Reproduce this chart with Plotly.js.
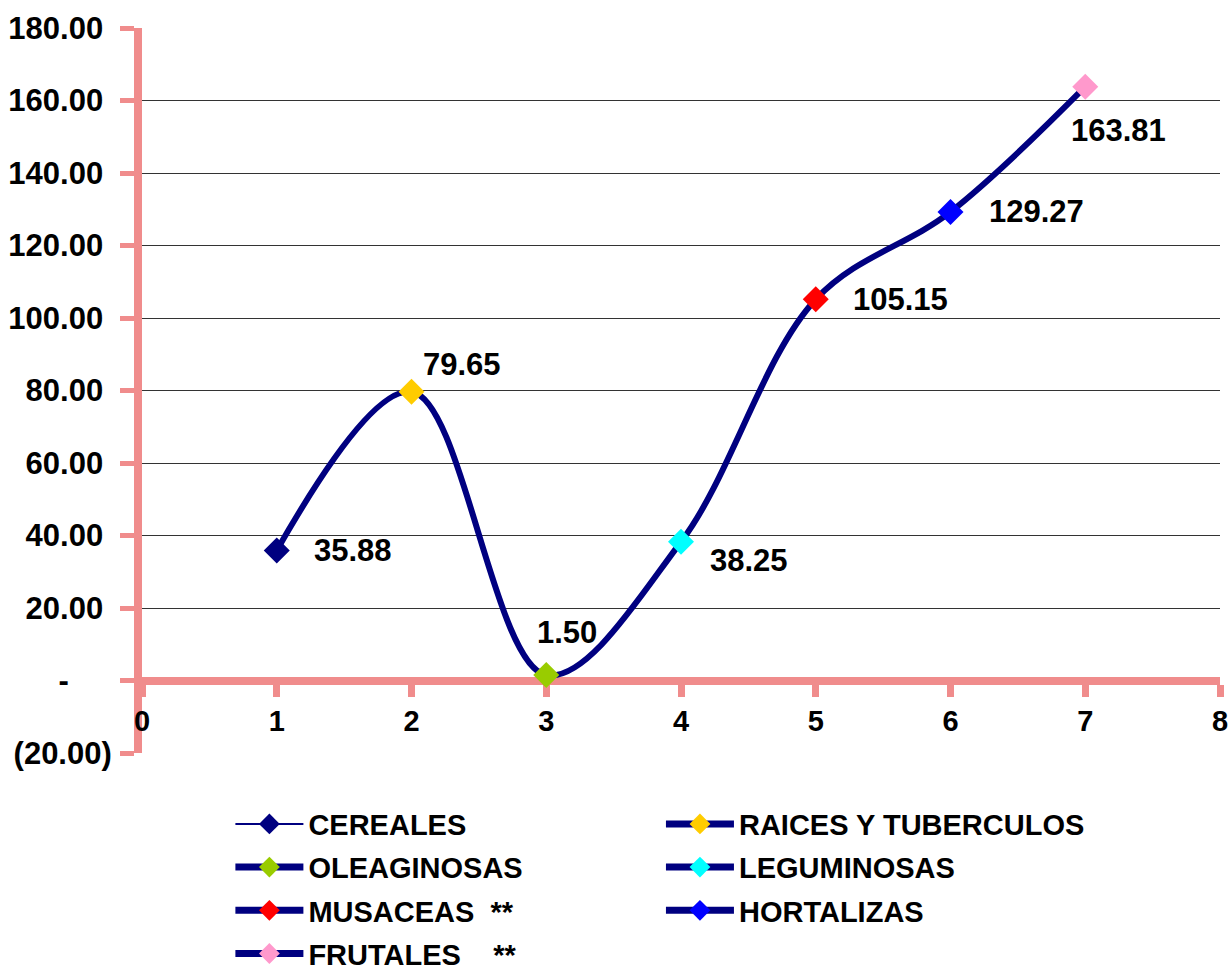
<!DOCTYPE html>
<html><head><meta charset="utf-8">
<script src="https://cdn.plot.ly/plotly-3.0.1.min.js"></script>
<style>html,body{margin:0;padding:0;background:#fff}</style>
</head><body><div id="chart" style="width:1229px;height:971px"></div>
<script>
// ---- data ----
const categories = ["CEREALES","RAICES Y TUBERCULOS","OLEAGINOSAS","LEGUMINOSAS","MUSACEAS\u00A0\u00A0**","HORTALIZAS","FRUTALES\u00A0\u00A0\u00A0\u00A0**"];
const xPositions = [1,2,3,4,5,6,7];
const values = [35.88,79.65,1.50,38.25,105.15,129.27,163.81];
const yTickVals = [-20,0,20,40,60,80,100,120,140,160,180];
const yTickText = ["(20.00)","-\u00A0\u00A0\u00A0\u00A0\u00A0","20.00\u00A0","40.00\u00A0","60.00\u00A0","80.00\u00A0","100.00\u00A0","120.00\u00A0","140.00\u00A0","160.00\u00A0","180.00\u00A0"];
const gridVals = [20,40,60,80,100,120,140,160];
const xTickVals = [0,1,2,3,4,5,6,7,8];

// ---- styles ----
const markerColors = ["#000080","#FFCC00","#99CC00","#00FFFF","#FF0000","#0000FF","#FF99CC"];
const legendLineWidths = [2,7,7,7,7,7,7];
const legendColumn = ["legend","legend2","legend","legend2","legend","legend2","legend"];
const labelOffsets = [[35,0],[9,27],[-11,43],[27,-19],[35,0],[36,0],[-16,-44]];
const NAVY = "#000080";
const AXIS = "#F08C8C";
const FONT = "Liberation Sans, Arial, sans-serif";

const traces = [
  // invisible helper so the grid-only axis is drawn
  {x: [0], y: [0], yaxis: "y2", mode: "markers", marker: {opacity: 0}, showlegend: false, hoverinfo: "skip"},
  {
    x: xPositions, y: values, type: "scatter", mode: "lines",
    line: {color: NAVY, width: 6, shape: "spline", smoothing: 1},
    showlegend: false, hoverinfo: "skip"
  }
];
categories.forEach((c, i) => {
  traces.push({
    x: [xPositions[i]], y: [values[i]], type: "scatter", mode: "lines+markers", name: c,
    legend: legendColumn[i], legendgroup: "g" + i,
    line: {color: NAVY, width: legendLineWidths[i]},
    marker: {symbol: "diamond", size: 20, color: markerColors[i]},
    cliponaxis: false
  });
});

const annotations = values.map((v, i) => ({
  x: xPositions[i], y: v, xref: "x", yref: "y", text: v.toFixed(2), showarrow: false,
  xanchor: "left", yanchor: "middle", xshift: labelOffsets[i][0], yshift: labelOffsets[i][1],
  font: {family: FONT, size: 31, weight: "bold", color: "#000"}
}));

const legendFont = {family: FONT, size: 29, weight: "bold", color: "#000"};
const layout = {
  width: 1229, height: 971,
  margin: {l: 142, r: 9, t: 28, b: 218, pad: 0, autoexpand: false},
  paper_bgcolor: "#fff", plot_bgcolor: "#fff",
  font: {family: FONT, weight: "bold", color: "#000"},
  showlegend: true,
  xaxis: {
    range: [0, 8], tickvals: xTickVals, ticktext: xTickVals.map(String),
    anchor: "free", position: 0.1, showgrid: false, zeroline: false,
    showline: true, linecolor: AXIS, linewidth: 8,
    ticks: "outside", ticklen: 12, tickwidth: 7, tickcolor: AXIS,
    tickfont: {family: FONT, size: 29, weight: "bold", color: "#000"},
    layer: "below traces", fixedrange: true
  },
  yaxis: {
    range: [-20, 180], tickvals: yTickVals, ticktext: yTickText,
    showgrid: false, zeroline: false,
    showline: true, linecolor: AXIS, linewidth: 8,
    ticks: "outside", ticklen: 14, tickwidth: 5, tickcolor: AXIS,
    tickfont: {family: FONT, size: 31, weight: "bold", color: "#000"},
    ticklabelstandoff: 2,
    layer: "below traces", fixedrange: true
  },
  yaxis2: {
    range: [-20, 180], overlaying: "y", tickvals: gridVals, showticklabels: false,
    showgrid: true, gridcolor: "#333", gridwidth: 1, zeroline: false, ticks: "",
    showline: false, fixedrange: true
  },
  legend: {
    orientation: "v", x: 0.082, xanchor: "left", y: -0.0628, yanchor: "top",
    font: legendFont, itemwidth: 68, tracegroupgap: 2.5, bgcolor: "rgba(0,0,0,0)"
  },
  legend2: {
    orientation: "v", x: 0.4814, xanchor: "left", y: -0.0628, yanchor: "top",
    font: legendFont, itemwidth: 68, tracegroupgap: 2.5, bgcolor: "rgba(0,0,0,0)"
  },
  annotations: annotations
};

Plotly.newPlot("chart", traces, layout, {staticPlot: true, displayModeBar: false});
</script></body></html>
